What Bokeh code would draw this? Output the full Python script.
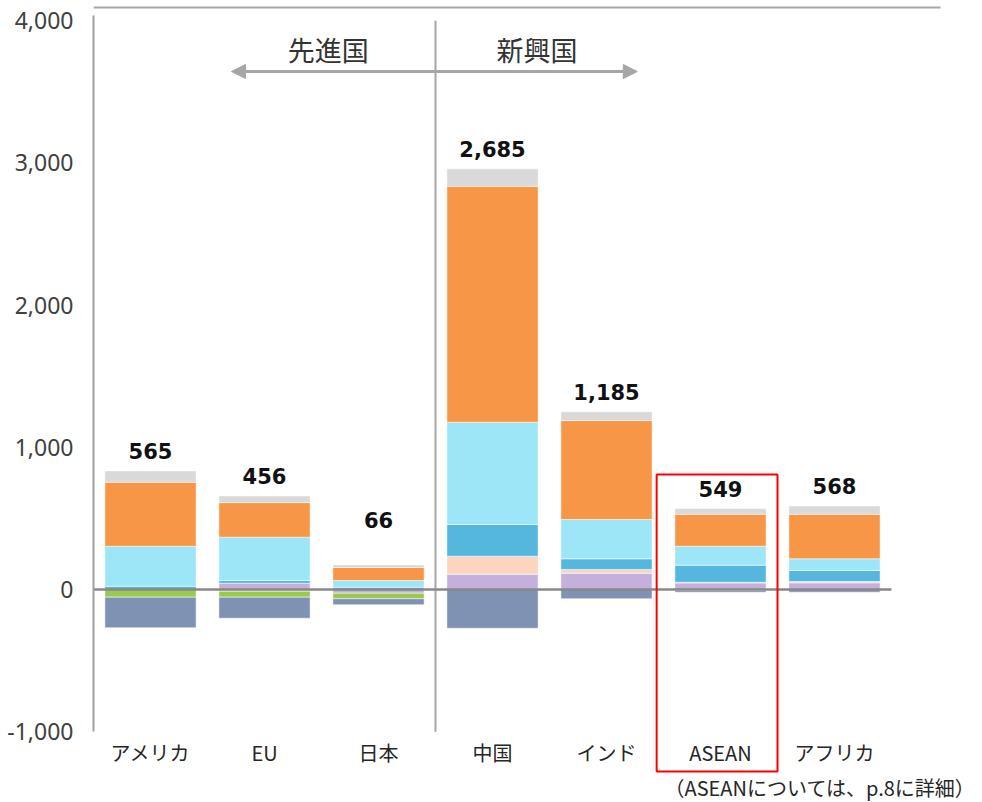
import numpy as np
from bokeh.plotting import figure
from bokeh.models import Range1d, FixedTicker, NumeralTickFormatter, Arrow, NormalHead, ColumnDataSource
from bokeh.core.properties import value
from bokeh.embed import file_html
from bokeh.resources import INLINE

# ---------------- data ----------------
categories = ["アメリカ", "EU", "日本", "中国", "インド", "ASEAN", "アフリカ"]
totals = [565, 456, 66, 2685, 1185, 549, 568]

s_purple = [0, 44, -26, 108, 115, 46, 47]
s_peach = [0, -12, 0, 126, 26, 5, 9]
s_blue = [23, 19, 16, 223, 75, 120, 78]
s_cyan = [281, 305, 47, 719, 276, 133, 82]
s_orange = [450, 243, 92, 1659, 696, 225, 313]
s_gray = [80, 47, 18, 123, 62, 40, 58]
s_green = [-54, -42, -39, 0, 0, -8, 0]
s_slate = [-215, -148, -42, -273, -65, -12, -19]

y_ticks = [-1000, 0, 1000, 2000, 3000, 4000]
group_left = "先進国"
group_right = "新興国"
note = "（ASEANについては、p.8に詳細）"
highlight = "ASEAN"

series = [s_purple, s_peach, s_blue, s_cyan, s_orange, s_gray, s_green, s_slate]
colors = ["#c4b0dc", "#fcd5bf", "#55b7de", "#9ce6f8", "#f79646", "#d9d9d9", "#9bc84f", "#7f92b4"]

# ---------------- layout helpers ----------------
W, H = 982, 802
LEFT = 93          # frame left (px)
ZERO_PX = 589      # y pixel of value 0
PX_PER_UNIT = 0.1422
CAT0_PX = 150      # x pixel of first category center
CAT_STEP = 114     # px between categories


def py(px):
    return (ZERO_PX - px) / PX_PER_UNIT


def pxx(px):
    return (px - CAT0_PX) / CAT_STEP


n = len(categories)
idx = np.arange(n)

p = figure(width=W, height=H, output_backend="svg", toolbar_location=None,
           x_range=Range1d(pxx(LEFT), pxx(W)), y_range=Range1d(py(H), py(0)),
           x_axis_location=None, y_axis_location="left",
           min_border_left=LEFT, min_border_right=0, min_border_top=0, min_border_bottom=0)
p.outline_line_color = None
p.xgrid.visible = False
p.ygrid.visible = False
p.background_fill_color = "white"
p.border_fill_color = "white"

ax = p.yaxis[0]
ax.ticker = FixedTicker(ticks=y_ticks)
ax.formatter = NumeralTickFormatter(format="0,0")
ax.axis_line_color = "#a0a0a0"
ax.axis_line_width = 2
ax.major_tick_line_color = None
ax.minor_tick_line_color = None
ax.major_label_standoff = 14
ax.major_label_text_font = "Noto Sans"
ax.major_label_text_font_size = "23px"
ax.major_label_text_color = "#404040"
ax.bounds = (y_ticks[0], py(15))

# top thin line
p.segment(x0=[pxx(LEFT)], x1=[pxx(940)], y0=[py(7)], y1=[py(7)], line_color="#a6a6a6", line_width=2)

# divider between developed / emerging
div_x = 2.5
p.segment(x0=[div_x], x1=[div_x], y0=[y_ticks[0]], y1=[y_ticks[-1]], line_color="#a6a6a6", line_width=2)

# stacked bars
pos = np.zeros(n)
neg = np.zeros(n)
for vals, col in zip(series, colors):
    v = np.array(vals, dtype=float)
    bottom = np.where(v >= 0, pos, neg + v)
    top = np.where(v >= 0, pos + v, neg)
    pos = pos + np.where(v > 0, v, 0)
    neg = neg + np.where(v < 0, v, 0)
    m = v != 0
    src = ColumnDataSource(dict(x=idx[m], bottom=bottom[m], top=top[m]))
    p.vbar(x="x", width=0.8, bottom="bottom", top="top", source=src,
           fill_color=col, line_color="white", line_width=1, line_alpha=0.5)

# zero line
p.segment(x0=[-0.5], x1=[n - 0.5], y0=[0], y1=[0], line_color="#888888", line_width=2.5)

# total labels
label_anchor = np.maximum(pos, 350)
p.text(x=idx, y=label_anchor, text=[f"{t:,}" for t in totals],
       text_font=value("DejaVu Sans"), text_font_style="bold", text_font_size="21px",
       text_color="#111111", text_align="center", text_baseline="middle", y_offset=-20)

# category labels
p.text(x=idx, y=[py(752)] * n, text=categories, text_font=value("Noto Sans CJK JP"),
       text_font_size="20px", text_color="#262626", text_align="center", text_baseline="middle")

# arrow with group names
head = dict(size=14, fill_color="#a6a6a6", line_color="#a6a6a6")
p.add_layout(Arrow(start=NormalHead(**head), end=NormalHead(**head),
                   x_start=div_x - 1.79, x_end=div_x + 1.77, y_start=py(71), y_end=py(71),
                   line_color="#a6a6a6", line_width=3))
p.text(x=[div_x - 0.94, div_x + 0.89], y=[py(49)] * 2, text=[group_left, group_right],
       text_font=value("Noto Sans CJK JP"), text_font_size="27px", text_color="#333333",
       text_align="center", text_baseline="middle")

# highlight box around ASEAN
hi = categories.index(highlight)
p.quad(left=[hi - 0.56], right=[hi + 0.5], bottom=[py(771)], top=[py(474)],
       fill_color=None, line_color="#ff0000", line_width=2)

# note
p.text(x=[pxx(664)], y=[py(787)], text=[note], text_font=value("Noto Sans CJK JP"),
       text_font_size="20px", text_color="#262626", text_align="left", text_baseline="middle")

open("out.html", "w").write(file_html(p, INLINE))
